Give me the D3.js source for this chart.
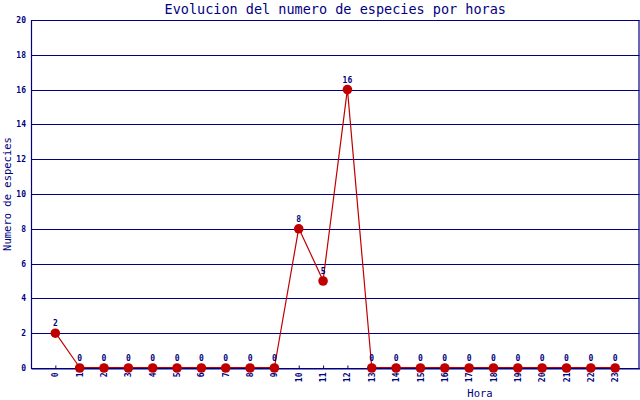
<!DOCTYPE html>
<html>
<head>
<meta charset="utf-8">
<script src="https://cdn.jsdelivr.net/npm/d3@7"></script>
<style>
  html, body { margin: 0; padding: 0; background: #fff; }
  svg { display: block; }
</style>
</head>
<body>
<svg id="chart" width="640" height="400"></svg>
<script>
const hours = ["0","1","2","3","4","5","6","7","8","9","10","11","12","13","14","15","16","17","18","19","20","21","22","23"];
const especies = [2,0,0,0,0,0,0,0,0,0,8,5,16,0,0,0,0,0,0,0,0,0,0,0];
const yTicks = [0,2,4,6,8,10,12,14,16,18,20];
const title = "Evolucion del numero de especies por horas";
const xTitle = "Hora";
const yTitle = "Numero de especies";

const navy = "#000080";
const red = "#c00000";
const mono = "'DejaVu Sans Mono', monospace";

const svg = d3.select("#chart");
const L = 31, R = 639.5, T = 20, B = 368;

const x = d3.scalePoint().domain(hours).range([L, R]).padding(1);
const y = d3.scaleLinear().domain([0, 20]).range([B, T]);

// grid lines
svg.append("g").selectAll("line").data(yTicks).join("line")
  .attr("x1", L).attr("x2", R)
  .attr("y1", d => Math.round(y(d)) + 0.5).attr("y2", d => Math.round(y(d)) + 0.5)
  .attr("stroke", navy).attr("stroke-width", 1.2);

// frame
svg.append("line").attr("x1", L + 0.5).attr("x2", L + 0.5).attr("y1", T).attr("y2", B + 1)
  .attr("stroke", navy).attr("stroke-width", 1.2);
svg.append("line").attr("x1", R - 0.5).attr("x2", R - 0.5).attr("y1", T).attr("y2", B + 1)
  .attr("stroke", navy).attr("stroke-width", 1.2);

// y tick labels
svg.append("g").selectAll("text").data(yTicks).join("text")
  .attr("x", 26).attr("y", d => y(d) + 3)
  .attr("text-anchor", "end")
  .attr("font-family", mono).attr("font-size", 8).attr("font-weight", "bold")
  .attr("fill", navy)
  .text(d => d);

// x axis via d3 axis
const xAxis = svg.append("g")
  .attr("transform", `translate(0,${B + 0.5})`)
  .call(d3.axisBottom(x).tickSize(-3).tickSizeOuter(0));
xAxis.select(".domain").attr("stroke", navy).attr("stroke-width", 1.2);
xAxis.selectAll(".tick line").attr("stroke", navy);
xAxis.selectAll(".tick text")
  .attr("font-family", mono).attr("font-size", 8).attr("font-weight", "bold")
  .attr("fill", navy)
  .attr("transform", "rotate(-90)")
  .attr("text-anchor", "end")
  .attr("x", -4).attr("y", 0).attr("dy", "0.32em");

// line
const line = d3.line().x((d, i) => x(hours[i])).y(d => y(d));
svg.append("path").datum(especies)
  .attr("d", line)
  .attr("fill", "none").attr("stroke", red).attr("stroke-width", 1.2)
  .attr("transform", "translate(0,-0.5)");

// markers
svg.append("g").selectAll("circle").data(especies).join("circle")
  .attr("cx", (d, i) => x(hours[i])).attr("cy", d => y(d))
  .attr("r", 4.8).attr("fill", red);

// value labels
svg.append("g").selectAll("text").data(especies).join("text")
  .attr("x", (d, i) => x(hours[i])).attr("y", d => y(d) - 7)
  .attr("text-anchor", "middle")
  .attr("font-family", mono).attr("font-size", 8).attr("font-weight", "bold")
  .attr("fill", navy)
  .text(d => d);

// title
svg.append("text").attr("x", (L + R) / 2).attr("y", 14)
  .attr("text-anchor", "middle")
  .attr("font-family", mono).attr("font-size", 13.5)
  .attr("fill", navy).text(title);

// x title
svg.append("text").attr("x", 480).attr("y", 397)
  .attr("text-anchor", "middle")
  .attr("font-family", mono).attr("font-size", 10.5)
  .attr("fill", navy).text(xTitle);

// y title
svg.append("text")
  .attr("transform", `translate(11,${(T + B) / 2}) rotate(-90)`)
  .attr("text-anchor", "middle")
  .attr("font-family", mono).attr("font-size", 10.5)
  .attr("fill", navy).text(yTitle);
</script>
</body>
</html>
